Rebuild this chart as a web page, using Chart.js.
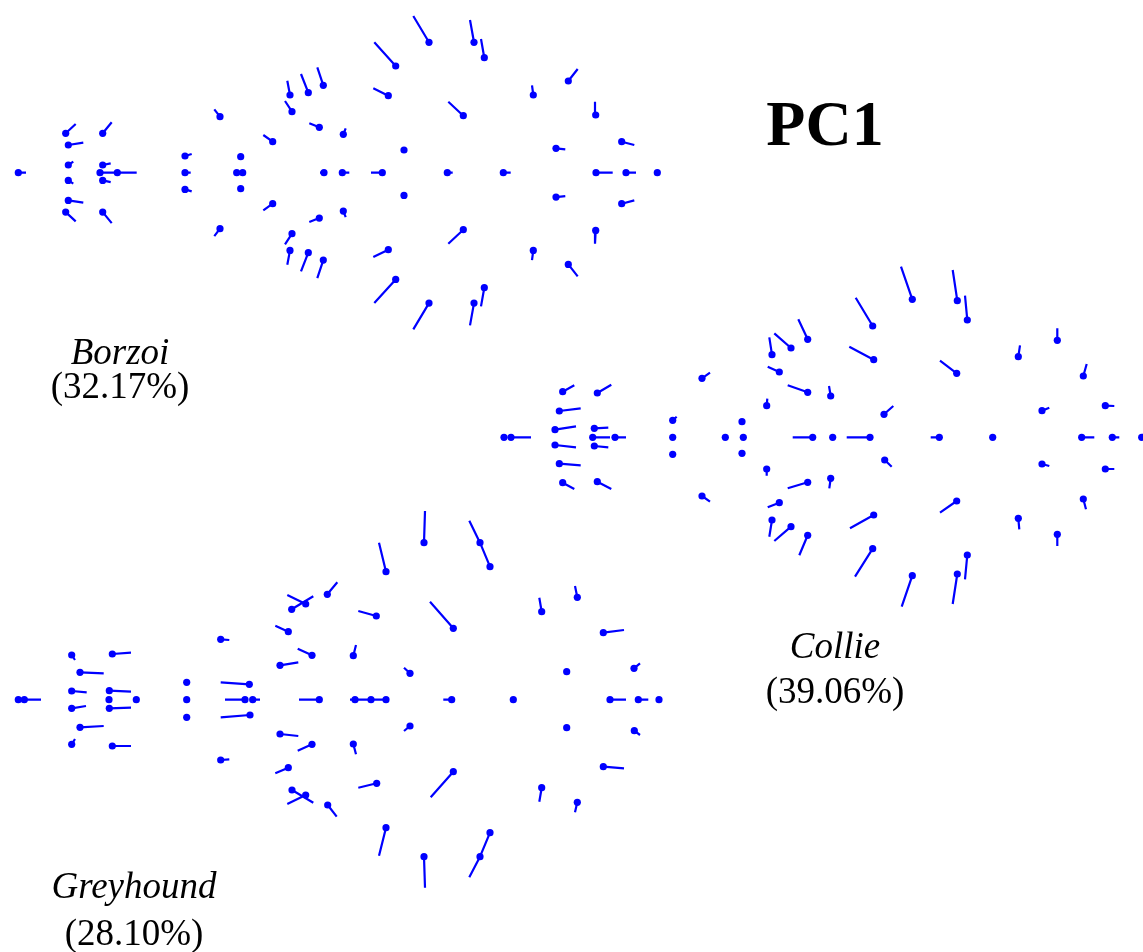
<!DOCTYPE html>
<html>
<head>
<meta charset="utf-8">
<script src="https://cdn.jsdelivr.net/npm/chart.js@4"></script>
<style>
html,body{margin:0;padding:0;background:#fff;}
#wrap{width:1143px;height:952px;}
</style>
</head>
<body>
<div id="wrap"><canvas id="c" width="1143" height="952"></canvas></div>
<script>
// ---- Landmark data (shape coordinates) ----
const breedNames = ['Borzoi', 'Collie', 'Greyhound'];
const variancePct = ['(32.17%)', '(39.06%)', '(28.10%)'];
const componentLabel = 'PC1';

// Borzoi: centre row, upper half, lower half
const borzoiX = [18.3,100,117.3,185,236.7,242.7,324,342.3,382.3,447.3,503.3,596,626,657.3,
  65.7,68.3,68.3,102.7,102.7,185,220,240.7,272.7,290,292,308.3,323.3,319.3,429,395.7,474,484.3,388.3,463.3,343.3,404,533.3,568.3,595.7,556,621.7,
  65.7,68.3,68.3,102.7,102.7,185,220,240.7,272.7,290,292,308.3,323.3,319.3,429,395.7,474,484.3,388.3,463.3,343.3,404,533.3,568.3,595.7,556,621.7];
const borzoiY = [172.7,172.7,172.7,172.7,172.7,172.7,172.7,172.7,172.7,172.7,172.7,172.7,172.7,172.7,
  133.3,145,165,133.3,165,156,116.7,156.7,141.7,95,111.7,92.7,85.3,127.3,42.3,66,42.3,57.7,95.7,115.7,134.3,150,95,81,115,148.3,141.7,
  212.1,200.4,180.4,212.1,180.4,189.4,228.7,188.7,203.7,250.4,233.7,252.7,260.1,218.1,303.1,279.4,303.1,287.7,249.7,229.7,211.1,195.4,250.4,264.4,230.4,197.1,203.7];
const borzoiTipX = [26,117.3,136.7,190.7,null,null,320,349.3,371,452.7,510.7,612.7,636,null,
  75.7,83.3,73.3,111.7,110.7,191.7,214.3,null,263.3,287.3,285,301,317.3,309.3,413.3,374.3,470,481,373.3,448.3,345.7,402,532,577.7,595,565.3,634.3,
  75.7,83.3,73.3,111.7,110.7,191.7,214.3,null,263.3,287.3,285,301,317.3,309.3,413.3,374.3,470,481,373.3,448.3,345.7,402,532,577.7,595,565.3,634.3];
const borzoiTipY = [172.7,172.7,172.7,172.7,null,null,172.7,172.7,172.7,172.7,172.7,172.7,172.7,null,
  124,142.7,161.7,122.3,163.3,154,109.3,null,135,80.7,101,74,67.3,123.3,16,42.3,20,39,88.3,101.7,128.3,148,85.3,69,101.7,149.3,145,
  221.4,202.7,183.7,223.1,182.1,191.4,236.1,null,210.4,264.7,244.4,271.4,278.1,222.1,329.4,303.1,325.4,306.4,257.1,243.7,217.1,197.4,260.1,276.4,243.7,196.1,200.4];

// Collie
const collieX = [504,511,592.7,615,672.7,725.3,743.3,812.7,832.7,870,939.3,992.7,1081.7,1112.3,1141.7,
  807.7,791,772,779.3,807.7,702,562.7,597.3,559.3,555,594.3,766.7,672.7,742,912.3,957.3,967.3,872.7,873.7,956.7,830.7,884,1018.3,1057.3,1083.3,1042,1105.3,
  807.7,791,772,779.3,807.7,702,562.7,597.3,559.3,555,594.3,766.7,672.7,742,912.3,957.3,967.3,872.7,873.7,956.7,830.7,884.7,1018.3,1057.3,1083.3,1042,1105.3];
const collieY = [437.3,437.3,437.3,437.3,437.3,437.3,437.3,437.3,437.3,437.3,437.3,437.3,437.3,437.3,437.3,
  339.3,348,354.7,372,392.3,378.3,391.7,393,411,429.7,428.3,405.7,420.3,421.7,299.3,300.7,320,326,359.7,373.3,396,414.3,356.7,340.3,376,410.7,405.7,
  535.3,526.7,520,502.7,482.3,496,482.7,481.7,463.7,445,446,469,454.3,453.3,575.7,574,555,548.7,515,501,478.3,460,518.3,534.3,499,464,469];
const collieTipX = [null,531,610,626,null,null,null,792.7,null,846.7,930.7,null,1094.3,1119.3,null,
  798.3,774.3,769.3,767.7,787.7,710,574.3,611.3,580.7,576,608.3,767.3,676.7,null,901,952.7,965,855.7,849.3,940,829,893.3,1020,1057.3,1086.7,1049.3,1114.3,
  799.3,774.3,769.3,767.7,787.7,710,574.3,611.3,580.7,576,608.3,766.7,null,null,901.7,952.7,965,855,850,940,829.3,891.7,1019.3,1057.3,1086,1049.3,1114.3];
const collieTipY = [null,437.3,437.3,437.3,null,null,null,437.3,null,437.3,437.3,null,437.3,437.3,null,
  319.3,333.3,337.3,366.7,385.3,372.7,385.3,384.7,408.3,426.3,427.7,398.7,416.7,null,266.7,270,295.7,297.7,346.7,360.7,386,406,345.3,328.3,364,407.7,406,
  555.3,541,536.7,507.3,488.3,501.7,489,489,465.3,447.3,447.3,475.7,null,null,606.7,604,579.3,576.7,528.3,512.7,488.3,466.7,529.3,546,509.3,466,469];

// Greyhound
const greyX = [18.3,24.3,109,136.3,186.7,245,252.7,319.3,355,371,386,451.7,513.3,610,638.3,659,
  71.7,112.3,80,71.7,109.3,186.7,249.3,220.7,280,312,288.3,291.7,305.7,327.3,424,480,490,386,376.3,453.3,353.3,410,541.7,577.3,603.3,566.7,634,
  71.7,112.3,80,71.7,109.3,186.7,250,220.7,280,312,288.3,292,305.7,327.7,424,480,490,386,376.7,453.3,353.3,410,541.7,577.3,603.3,566.7,634.3];
const greyY = [699.7,699.7,699.7,699.7,699.7,699.7,699.7,699.7,699.7,699.7,699.7,699.7,699.7,699.7,699.7,699.7,
  655,654,672.3,691,690.7,682.3,684.3,639.3,665.3,655.3,631.7,609.3,604,594.3,542.7,542.7,566.7,571.7,616,628.3,655.7,673.3,611.7,597.3,632.7,671.7,668.3,
  744.3,746,727.3,708.3,708.3,717.3,715,760,734,744.3,767.7,790,795,805,856.7,856.7,832.7,827.7,783.3,771.7,744,726,787.7,802.3,766.7,727.7,730.7];
const greyTipX = [null,41,null,null,null,225,260,299,350,355,371,443.3,510,626,648.3,null,
  75,131,103.7,86.7,131,null,220.7,229.3,298.3,297.7,275.3,313.3,287.3,337.3,425,469.3,480,379,358.3,430,356,404,539.3,575,624,565,640,
  75,131,103.7,86,131,null,220.7,229.3,298.3,297.7,275.3,313.3,287.3,336.7,425,469.3,480,379,358.3,430.7,356,404,539.3,575,624,null,640];
const greyTipY = [null,699.7,null,null,null,699.7,699.7,699.7,699.7,699.7,699.7,699.7,699.7,699.7,699.7,null,
  660,652.7,673.3,692.3,691.7,null,682.3,640,662.3,648.7,625.7,596.3,595,582.3,511,520.7,542.7,542.7,611,601.7,645,667.7,597.7,586,630,670,663.3,
  739,746,726,706,707.7,null,717.3,759.3,736,750.7,773.3,802.7,804,816.7,887.7,877.3,856.7,855.7,787.7,797.3,754.3,731,801.7,812.3,768.3,null,735];

// ---- build datasets ----
const BLUE = '#0000ff';
function dots(xs, ys) { return xs.map((x, i) => ({x: x, y: ys[i]})); }
function segs(xs, ys, tx, ty) {
  const out = [];
  xs.forEach((x, i) => {
    if (tx[i] === null || ty[i] === null) return;
    out.push({x: x, y: ys[i]});
    out.push({x: tx[i], y: ty[i]});
    out.push({x: x, y: null});
  });
  return out;
}
const shapes = [
  [borzoiX, borzoiY, borzoiTipX, borzoiTipY],
  [collieX, collieY, collieTipX, collieTipY],
  [greyX, greyY, greyTipX, greyTipY]
];
const datasets = [];
shapes.forEach((s, k) => {
  datasets.push({
    label: breedNames[k] + ' vectors', type: 'scatter', data: segs(s[0], s[1], s[2], s[3]),
    showLine: true, spanGaps: false, borderColor: BLUE, borderWidth: 2.2,
    pointRadius: 0, pointHoverRadius: 0, clip: false, order: 2
  });
  datasets.push({
    label: breedNames[k], type: 'scatter', data: dots(s[0], s[1]),
    showLine: false, pointRadius: 3.6, pointHoverRadius: 3.6, pointBackgroundColor: BLUE,
    pointBorderWidth: 0, borderColor: BLUE, clip: false, order: 1
  });
});

// text labels anchored in the same coordinate frame
const textPlugin = {
  id: 'labels',
  afterDraw(chart) {
    const ctx = chart.ctx, sx = chart.scales.x, sy = chart.scales.y;
    ctx.save();
    ctx.fillStyle = '#000';
    ctx.textAlign = 'center';
    ctx.textBaseline = 'alphabetic';
    const put = (txt, x, y, font) => { ctx.font = font; ctx.fillText(txt, sx.getPixelForValue(x), sy.getPixelForValue(y)); };
    put(componentLabel, 825, 145, 'bold 64px "Liberation Serif", "Times New Roman", serif');
    const nameFont = 'italic 37px "Liberation Serif", "Times New Roman", serif';
    const pctFont = '37px "Liberation Serif", "Times New Roman", serif';
    put(breedNames[0], 120, 364, nameFont); put(variancePct[0], 120, 398, pctFont);
    put(breedNames[1], 835, 658, nameFont); put(variancePct[1], 835, 703, pctFont);
    put(breedNames[2], 134, 898, nameFont); put(variancePct[2], 134, 945, pctFont);
    ctx.restore();
  }
};

new Chart(document.getElementById('c'), {
  type: 'scatter',
  data: { datasets: datasets },
  options: {
    responsive: false,
    animation: false,
    layout: { padding: 0, autoPadding: false },
    plugins: { legend: { display: false }, tooltip: { enabled: false } },
    events: [],
    scales: {
      x: { type: 'linear', min: 0, max: 1143, display: false },
      y: { type: 'linear', min: 0, max: 952, reverse: true, display: false }
    }
  },
  plugins: [textPlugin]
});
</script>
</body>
</html>
